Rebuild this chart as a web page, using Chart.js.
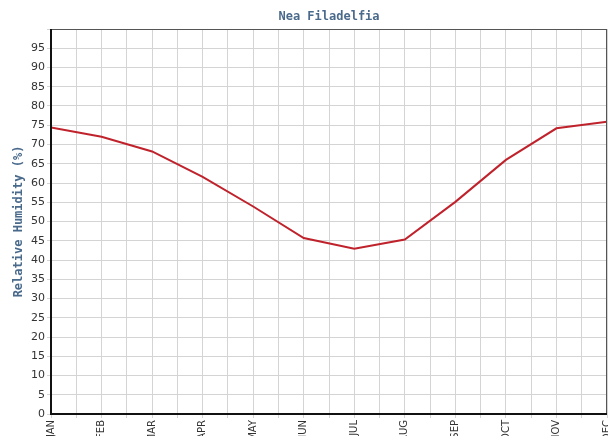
<!DOCTYPE html>
<html>
<head>
<meta charset="utf-8">
<script src="https://cdn.jsdelivr.net/npm/chart.js@4/dist/chart.umd.min.js"></script>
<style>
html,body{margin:0;padding:0;background:#fff;overflow:hidden;}
#wrap{width:608px;height:436px;position:relative;}
</style>
</head>
<body>
<div id="wrap"><canvas id="c" width="608" height="436"></canvas></div>
<script>
const months = ['JAN','FEB','MAR','APR','MAY','JUN','JUL','AUG','SEP','OCT','NOV','DEC'];
const humidity = [74.4, 72.0, 68.2, 61.6, 53.9, 45.7, 42.9, 45.3, 55.1, 66.0, 74.2, 75.9];
const titleText = 'Nea Filadelfia';
const yTitle = 'Relative Humidity (%)';

const points = humidity.map((v, i) => ({x: i, y: v}));

const chrome = {
  id: 'chrome',
  afterDraw(chart) {
    const {ctx, chartArea: a} = chart;
    ctx.save();
    ctx.strokeStyle = '#555';
    ctx.lineWidth = 1;
    ctx.strokeRect(a.left + 0.5, a.top + 0.5, a.right - a.left - 1, a.bottom - a.top);
    ctx.strokeStyle = '#111';
    ctx.lineWidth = 2;
    ctx.beginPath();
    ctx.moveTo(a.left, a.top);
    ctx.lineTo(a.left, a.bottom);
    ctx.lineTo(a.right, a.bottom);
    ctx.stroke();
    ctx.fillStyle = '#4a6a8c';
    ctx.font = 'bold 12px "DejaVu Sans Mono", monospace';
    ctx.textAlign = 'center';
    ctx.textBaseline = 'middle';
    ctx.fillText(titleText, (a.left + a.right) / 2, 17);
    ctx.restore();
  }
};

new Chart(document.getElementById('c'), {
  type: 'line',
  data: {
    datasets: [{
      data: points,
      borderColor: '#c0222c',
      borderWidth: 2,
      pointRadius: 0,
      tension: 0,
      fill: false
    }]
  },
  options: {
    responsive: false,
    animation: false,
    layout: {padding: {top: 29, right: 1, left: 0, bottom: 0}},
    plugins: {legend: {display: false}, tooltip: {enabled: false}, title: {display: false}},
    scales: {
      x: {
        type: 'linear',
        min: 0, max: 11,
        afterFit(s) { s.height = 22; s.paddingRight = 0; s.paddingLeft = 0; },
        grid: {color: '#d4d4d4', lineWidth: 1, drawTicks: true, tickLength: 4},
        border: {display: false},
        ticks: {
          stepSize: 0.5,
          autoSkip: false,
          minRotation: 90, maxRotation: 90,
          color: '#333',
          font: {family: '"DejaVu Sans"', size: 10},
          padding: 2,
          callback: (v) => Number.isInteger(v) ? months[v] : ''
        }
      },
      y: {
        min: 0, max: 100,
        afterFit(s) { s.width = 51; s.paddingTop = 0; s.paddingBottom = 0; },
        grid: {color: '#d4d4d4', lineWidth: 1, drawTicks: true, tickLength: 4},
        border: {display: false},
        title: {
          display: true,
          text: yTitle,
          color: '#4a6a8c',
          font: {family: '"DejaVu Sans Mono", monospace', size: 12, weight: 'bold'},
          padding: {top: 12, bottom: 0}
        },
        ticks: {
          stepSize: 5,
          color: '#333',
          font: {family: '"DejaVu Sans"', size: 11},
          padding: 2,
          callback: (v) => v === 100 ? '' : v
        }
      }
    }
  },
  plugins: [chrome]
});
</script>
</body>
</html>
